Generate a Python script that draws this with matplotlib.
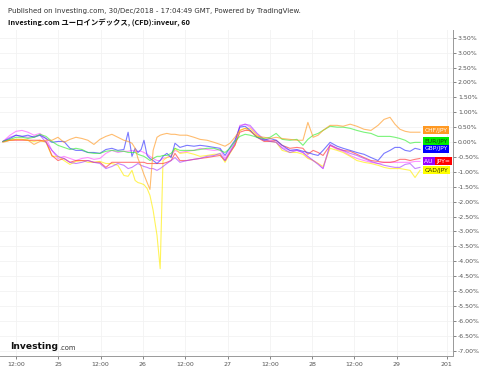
import numpy as np
import matplotlib
matplotlib.use("Agg")
import matplotlib.pyplot as plt
import matplotlib.transforms as mtransforms

# hours from 24/Dec 12:00
hours = [-3.7, -1.7, 0.0, 1.7, 3.4, 5.1, 6.8, 8.5, 10.2, 11.9, 13.6, 15.3, 17.0, 18.7,
         20.4, 22.1, 23.8, 25.5, 27.2, 28.9, 30.6, 31.8, 32.9, 33.8, 34.6, 35.5, 36.3,
         37.2, 38.0, 38.9, 40.0, 40.9, 41.7, 42.8, 44.0, 45.1, 46.5, 48.5, 50.5, 52.2,
         54.2, 56.2, 57.9, 59.3, 60.7, 62.1, 63.5, 65.0, 66.4, 68.4, 70.4, 72.1, 73.8,
         75.5, 77.7, 79.7, 81.4, 82.8, 84.3, 85.7, 87.1, 89.1, 91.1, 92.8, 94.8, 96.7,
         98.7, 100.7, 102.7, 104.4, 106.1, 107.5, 108.9, 110.4, 111.8, 113.2, 114.6]

chf_jpy = [-0.01, 0.06, 0.09, 0.09, 0.06, -0.08, 0.02, 0.06, 0.06, 0.16, -0.01, 0.09, 0.16, 0.12,
           0.06, -0.08, 0.09, 0.19, 0.26, 0.16, 0.06, 0.02, -0.04, -0.21, -0.55, -0.82, -1.09,
           -1.36, -1.59, -0.28, 0.16, 0.23, 0.26, 0.29, 0.26, 0.26, 0.23, 0.23, 0.16, 0.09,
           0.06, -0.01, -0.08, -0.14, -0.04, 0.16, 0.39, 0.46, 0.36, 0.19, 0.16, 0.12, 0.16,
           0.12, 0.09, 0.06, 0.06, 0.66, 0.16, 0.23, 0.39, 0.56, 0.56, 0.53, 0.60, 0.53,
           0.43, 0.39, 0.56, 0.76, 0.83, 0.60, 0.43, 0.36, 0.33, 0.33, 0.33]

eur_jpy = [0.02, 0.09, 0.16, 0.16, 0.12, 0.16, 0.26, 0.19, 0.02, -0.11, -0.18, -0.25, -0.21, -0.25,
           -0.35, -0.38, -0.38, -0.31, -0.28, -0.31, -0.31, -0.35, -0.35, -0.35, -0.41, -0.45, -0.48,
           -0.55, -0.62, -0.55, -0.48, -0.48, -0.45, -0.45, -0.38, -0.21, -0.28, -0.28, -0.28, -0.25,
           -0.21, -0.21, -0.28, -0.35, -0.21, 0.02, 0.19, 0.26, 0.23, 0.16, 0.12, 0.16, 0.29,
           0.09, 0.06, 0.09, -0.11, 0.09, 0.23, 0.29, 0.39, 0.53, 0.50, 0.50, 0.46, 0.39,
           0.33, 0.29, 0.19, 0.19, 0.19, 0.16, 0.12, 0.06, -0.04, -0.01, -0.01]

gbp_jpy = [0.02, 0.12, 0.23, 0.19, 0.23, 0.16, 0.23, 0.12, -0.01, 0.02, 0.02, -0.21, -0.28, -0.28,
           -0.35, -0.35, -0.38, -0.25, -0.21, -0.28, -0.25, 0.33, -0.48, -0.21, -0.35, -0.25, 0.06,
           -0.45, -0.55, -0.62, -0.72, -0.62, -0.48, -0.38, -0.52, -0.04, -0.18, -0.11, -0.14, -0.11,
           -0.14, -0.18, -0.21, -0.45, -0.18, 0.06, 0.50, 0.53, 0.39, 0.16, 0.06, 0.12, 0.06,
           -0.11, -0.28, -0.25, -0.31, -0.35, -0.41, -0.45, -0.28, -0.01, -0.14, -0.21, -0.28, -0.35,
           -0.41, -0.52, -0.62, -0.38, -0.28, -0.18, -0.18, -0.28, -0.31, -0.21, -0.25]

aud_jpy = [0.02, 0.16, 0.23, 0.19, 0.16, 0.19, 0.23, -0.01, -0.28, -0.48, -0.55, -0.68, -0.72, -0.68,
           -0.62, -0.68, -0.72, -0.89, -0.82, -0.72, -0.78, -0.89, -0.85, -0.78, -0.72, -0.78, -0.82,
           -0.85, -0.89, -0.89, -0.95, -0.89, -0.82, -0.72, -0.62, -0.52, -0.68, -0.62, -0.58, -0.55,
           -0.48, -0.45, -0.38, -0.62, -0.35, -0.04, 0.53, 0.60, 0.56, 0.29, 0.09, 0.02, -0.01,
           -0.21, -0.35, -0.28, -0.35, -0.48, -0.62, -0.75, -0.89, -0.08, -0.21, -0.28, -0.38, -0.45,
           -0.55, -0.65, -0.72, -0.78, -0.82, -0.85, -0.85, -0.75, -0.72, -0.89, -0.85]

nzd_jpy = [0.02, 0.06, 0.06, 0.06, 0.06, 0.06, 0.06, 0.02, -0.45, -0.62, -0.55, -0.68, -0.62, -0.62,
           -0.62, -0.68, -0.68, -0.85, -0.68, -0.68, -0.68, -0.68, -0.68, -0.68, -0.68, -0.68, -0.68,
           -0.72, -0.72, -0.72, -0.72, -0.72, -0.72, -0.68, -0.62, -0.38, -0.62, -0.62, -0.58, -0.55,
           -0.52, -0.48, -0.45, -0.62, -0.35, -0.11, 0.33, 0.39, 0.39, 0.16, 0.02, 0.02, 0.06,
           -0.11, -0.21, -0.18, -0.21, -0.41, -0.28, -0.35, -0.45, -0.11, -0.21, -0.28, -0.31, -0.41,
           -0.52, -0.62, -0.65, -0.68, -0.68, -0.65, -0.58, -0.58, -0.62, -0.58, -0.55]

cad_jpy = [0.02, 0.06, 0.09, 0.09, 0.06, 0.02, 0.06, -0.01, -0.48, -0.48, -0.62, -0.75, -0.65, -0.62,
           -0.68, -0.68, -0.65, -0.72, -0.72, -0.78, -1.12, -1.15, -0.95, -1.29, -1.36, -1.39, -1.43,
           -1.56, -1.79, -2.29, -3.13, -4.25, -0.62, -0.52, -0.48, -0.21, -0.38, -0.35, -0.41, -0.48,
           -0.45, -0.41, -0.41, -0.68, -0.38, -0.11, 0.39, 0.46, 0.46, 0.23, 0.09, 0.02, -0.01,
           -0.28, -0.35, -0.35, -0.41, -0.55, -0.62, -0.72, -0.82, -0.21, -0.28, -0.35, -0.48, -0.62,
           -0.68, -0.72, -0.78, -0.85, -0.89, -0.89, -0.89, -0.92, -0.95, -1.19, -0.95]

# main symbol (its label is hidden behind the others)
eur_index = [0.02, 0.23, 0.36, 0.39, 0.33, 0.23, 0.29, 0.12, -0.28, -0.55, -0.48, -0.55, -0.62, -0.55,
             -0.52, -0.58, -0.55, -0.38, -0.28, -0.35, -0.31, -0.31, -0.28, -0.31, -0.31, -0.31, -0.35,
             -0.41, -0.48, -0.55, -0.62, -0.62, -0.55, -0.52, -0.45, -0.28, -0.35, -0.31, -0.28, -0.21,
             -0.25, -0.28, -0.25, -0.55, -0.28, -0.04, 0.56, 0.60, 0.50, 0.26, 0.06, 0.06, -0.01,
             -0.18, -0.28, -0.28, -0.35, -0.52, -0.62, -0.72, -0.89, -0.11, -0.25, -0.31, -0.45, -0.55,
             -0.62, -0.68, -0.72, -0.68, -0.68, -0.68, -0.68, -0.68, -0.68, -0.65, -0.65]

x_ticks = [0, 12, 24, 36, 48, 60, 72, 84, 96, 108, 122.2]
x_labels = ["12:00", "25", "12:00", "26", "12:00", "27", "12:00", "28", "12:00", "29", "201"]
y_ticks = np.arange(-7.0, 3.51, 0.5)

fig = plt.figure(figsize=(4.8, 3.69), dpi=100)
ax = fig.add_axes([0.0, 0.0352, 0.94375, 0.8835])

series = [
    (eur_index, "#ff55ff"),
    (cad_jpy, "#ffee00"),
    (nzd_jpy, "#ff3333"),
    (aud_jpy, "#aa44ff"),
    (gbp_jpy, "#3333ff"),
    (eur_jpy, "#33ee33"),
    (chf_jpy, "#ff9922"),
]
for vals, col in series:
    ax.plot(hours, vals, color=col, lw=0.8, alpha=0.65)

ax.set_xlim(-4.54, 123.97)
ax.set_ylim(-7.18, 3.76)
ax.set_yticks(y_ticks)
ax.set_yticklabels(["%.2f%%" % v for v in y_ticks])
ax.set_xticks(x_ticks)
ax.set_xticklabels(x_labels)
ax.yaxis.tick_right()
ax.tick_params(axis="y", labelsize=4.5, colors="#555555", length=2, width=0.5, pad=1.5)
ax.tick_params(axis="x", labelsize=4.5, colors="#555555", length=2, width=0.5, pad=2)
ax.grid(True, color="#f2f2f2", lw=0.6)
ax.set_axisbelow(True)
for s in ["top", "left"]:
    ax.spines[s].set_visible(False)
for s in ["right", "bottom"]:
    ax.spines[s].set_color("#999999")
    ax.spines[s].set_linewidth(0.7)

# right-hand labels (the red one covers part of the AUD/JPY box)
trans = mtransforms.blended_transform_factory(ax.transAxes, ax.transData)
labels = [
    ("CHF/JPY", 0.39, "#ff9922", "white", 0.937, "left"),
    ("EUR/JPY", 0.02, "#00ee00", "#114411", 0.937, "left"),
    ("GBP/JPY", -0.23, "#0000ff", "white", 0.937, "left"),
    ("AU ", -0.65, "#9900ff", "white", 0.937, "left"),
    ("JPY=", -0.65, "#ff0000", "white", 0.994, "right"),
    ("CAD/JPY", -0.95, "#ffff00", "#333300", 0.937, "left"),
]
for txt, yv, bg, fg, xa, ha in labels:
    ax.text(xa, yv, txt, transform=trans, fontsize=4.3, color=fg, ha=ha,
            va="center", bbox=dict(boxstyle="square,pad=0.25", fc=bg, ec="none"), zorder=5)

fig.text(0.017, 0.978, "Published on Investing.com, 30/Dec/2018 - 17:04:49 GMT, Powered by TradingView.",
         fontsize=5, color="#333333", va="top", ha="left")
fig.text(0.017, 0.95, "Investing.com ユーロインデックス, (CFD):inveur, 60",
         fontsize=5.3, color="#111111", va="top", ha="left", fontweight="bold",
         family=["Noto Sans CJK JP", "DejaVu Sans"])

logo = fig.text(0.022, 0.053, "Investing", fontsize=6.6, fontweight="bold", color="#111111",
                va="baseline")
fig.canvas.draw()
ax.annotate(".com", xy=(1, 0), xycoords=logo, xytext=(0.3, 0), textcoords="offset points",
            fontsize=4.8, color="#333333", va="bottom", ha="left", annotation_clip=False)

fig.savefig("out.png", dpi=100)
